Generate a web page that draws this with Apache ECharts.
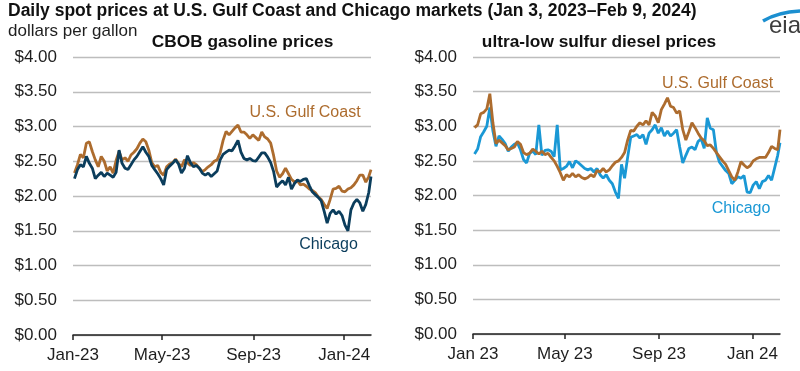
<!DOCTYPE html>
<html>
<head>
<meta charset="utf-8">
<script src="https://cdn.jsdelivr.net/npm/echarts@6/dist/echarts.min.js"></script>
<style>
html,body{margin:0;padding:0;background:#fff;}
#c{width:800px;height:371px;}
</style>
</head>
<body>
<div id="c"></div>
<script>
// ---- data ----
const dates = [
'2023-01-03','2023-01-07','2023-01-11','2023-01-15','2023-01-19','2023-01-23','2023-01-27','2023-01-31',
'2023-02-04','2023-02-08','2023-02-12','2023-02-16','2023-02-20','2023-02-24','2023-02-28',
'2023-03-04','2023-03-08','2023-03-12','2023-03-16','2023-03-20','2023-03-24','2023-03-28',
'2023-04-01','2023-04-05','2023-04-09','2023-04-13','2023-04-17','2023-04-21','2023-04-25','2023-04-29',
'2023-05-03','2023-05-07','2023-05-11','2023-05-15','2023-05-19','2023-05-23','2023-05-27','2023-05-31',
'2023-06-04','2023-06-08','2023-06-12','2023-06-16','2023-06-20','2023-06-24','2023-06-28',
'2023-07-02','2023-07-06','2023-07-10','2023-07-14','2023-07-18','2023-07-22','2023-07-26','2023-07-30',
'2023-08-03','2023-08-07','2023-08-11','2023-08-15','2023-08-19','2023-08-23','2023-08-27','2023-08-31',
'2023-09-04','2023-09-08','2023-09-12','2023-09-16','2023-09-20','2023-09-24','2023-09-28',
'2023-10-02','2023-10-06','2023-10-10','2023-10-14','2023-10-18','2023-10-22','2023-10-26','2023-10-30',
'2023-11-03','2023-11-07','2023-11-11','2023-11-15','2023-11-19','2023-11-23','2023-11-27',
'2023-12-01','2023-12-05','2023-12-09','2023-12-13','2023-12-17','2023-12-21','2023-12-25','2023-12-29',
'2024-01-02','2024-01-06','2024-01-10','2024-01-14','2024-01-18','2024-01-22','2024-01-26','2024-01-30',
'2024-02-03','2024-02-06'
];
const gasGulf = [
2.33,2.45,2.60,2.55,2.76,2.78,2.64,2.52,
2.42,2.57,2.50,2.36,2.42,2.33,2.51,
2.64,2.52,2.55,2.50,2.59,2.63,2.68,
2.76,2.82,2.78,2.66,2.48,2.42,2.44,2.34,
2.30,2.42,2.46,2.48,2.53,2.47,2.42,2.52,
2.48,2.44,2.48,2.45,2.40,2.35,2.38,
2.42,2.45,2.50,2.52,2.62,2.80,2.93,2.88,
2.93,2.98,3.02,2.92,2.92,2.88,2.83,2.88,
2.84,2.80,2.92,2.85,2.82,2.76,2.58,
2.36,2.27,2.32,2.40,2.32,2.24,2.20,2.22,
2.16,2.17,2.14,2.10,2.08,2.05,1.99,
1.95,1.88,1.82,1.95,2.10,2.11,2.14,2.07,
2.06,2.10,2.12,2.16,2.22,2.30,2.30,2.20,
2.28,2.38
];
const gasChicago = [
2.25,2.38,2.45,2.42,2.57,2.47,2.40,2.25,
2.30,2.34,2.28,2.33,2.30,2.27,2.34,
2.66,2.47,2.40,2.38,2.45,2.52,2.57,
2.64,2.71,2.63,2.57,2.44,2.38,2.32,2.25,
2.16,2.38,2.43,2.47,2.52,2.46,2.33,2.40,
2.58,2.48,2.42,2.44,2.40,2.33,2.30,
2.33,2.28,2.32,2.36,2.52,2.60,2.63,2.66,
2.65,2.72,2.80,2.63,2.54,2.52,2.54,2.51,
2.50,2.56,2.62,2.62,2.56,2.48,2.35,
2.13,2.18,2.22,2.16,2.27,2.10,2.18,2.23,
2.21,2.24,2.25,2.15,2.06,2.02,1.98,
1.93,1.78,1.61,1.75,1.80,1.74,1.78,1.72,
1.58,1.50,1.80,1.90,1.95,1.90,1.78,1.88,
2.05,2.28
];
const dieselGulf = [
2.98,3.02,3.18,3.20,3.25,3.47,3.05,2.75,
2.80,2.76,2.72,2.66,2.68,2.70,2.78,
2.74,2.62,2.59,2.61,2.67,2.64,2.60,
2.64,2.59,2.61,2.55,2.50,2.42,2.33,2.22,
2.30,2.27,2.32,2.27,2.30,2.26,2.24,2.26,
2.30,2.27,2.36,2.34,2.39,2.34,2.37,
2.43,2.48,2.50,2.55,2.62,2.80,2.94,2.93,
3.00,3.05,3.02,3.08,3.02,3.20,3.15,3.05,
3.24,3.32,3.41,3.29,3.27,3.19,3.22,
2.95,2.80,2.92,3.05,2.98,2.90,2.83,2.79,
2.72,2.73,2.68,2.62,2.56,2.50,2.45,
2.36,2.27,2.22,2.34,2.49,2.44,2.40,2.43,
2.50,2.53,2.55,2.55,2.55,2.62,2.71,2.68,
2.66,2.95
];
const dieselChicago = [
2.60,2.67,2.85,2.92,3.00,3.27,2.93,2.71,
2.86,2.81,2.75,2.64,2.70,2.74,2.76,
2.66,2.52,2.47,2.61,2.64,2.59,3.02,
2.58,2.65,2.66,2.64,2.56,3.02,2.37,2.39,
2.42,2.49,2.40,2.50,2.47,2.43,2.39,2.37,
2.39,2.34,2.39,2.30,2.25,2.30,2.22,
2.17,2.05,1.96,2.45,2.25,2.55,2.84,2.86,
2.88,2.83,2.88,2.74,2.90,2.95,3.02,2.90,
2.98,2.86,2.93,2.86,2.90,2.95,2.70,
2.47,2.58,2.68,2.70,2.66,2.78,2.82,2.68,
3.12,2.97,2.95,2.62,2.48,2.42,2.36,
2.32,2.17,2.22,2.27,2.25,2.29,2.05,2.04,
2.15,2.20,2.10,2.20,2.22,2.29,2.22,2.40,
2.58,2.76
];
const xTickDates = ['2023-01-01','2023-05-01','2023-09-01','2024-01-01'];
const xTickLabelsLeft = ['Jan-23','May-23','Sep-23','Jan-24'];
const xTickLabelsRight = ['Jan 23','May 23','Sep 23','Jan 24'];
const axisStart = '2023-01-01';
const axisEnd = '2024-02-06';

// ---- helpers ----
function ts(s){ const p = s.split('-').map(Number); return Date.UTC(p[0], p[1]-1, p[2]); }
const tickTs = xTickDates.map(ts);
function pairs(vals){ return dates.map((d,i)=>[ts(d), vals[i]]); }
function labelFor(labels){
  return function(v){
    let best=0, bd=Infinity;
    tickTs.forEach((t,i)=>{ const d=Math.abs(t-v); if(d<bd){bd=d;best=i;} });
    return bd < 86400000*3 ? labels[best] : '';
  };
}

const FONT = '"Liberation Sans", Arial, Helvetica, sans-serif';
const BROWN = '#ad6c2e';
const NAVY = '#0b3d5c';
const BLUE = '#1a98d5';
const TXT = '#1e1e1e';

function xAxisFor(grid, labels){
  return {
    type:'value', gridIndex:grid, min:ts(axisStart), max:ts(axisEnd),
    axisLine:{show:true, onZero:false, lineStyle:{color:'#222', width:1.5}},
    axisTick:{show:true, customValues:tickTs, length:5, inside:false, lineStyle:{color:'#222', width:1.5}},
    axisLabel:{customValues:tickTs, formatter:labelFor(labels), fontSize:17, fontFamily:FONT, color:TXT, margin:12, hideOverlap:false},
    splitLine:{show:false}
  };
}
function yAxisFor(grid){
  return {
    type:'value', gridIndex:grid, min:0, max:4, interval:0.5,
    axisLine:{show:false}, axisTick:{show:false},
    axisLabel:{formatter:v=>'$'+v.toFixed(2), fontSize:17, fontFamily:FONT, color:TXT, margin:16},
    splitLine:{show:true, lineStyle:{color:'#bdbdbd', width:1.3}}
  };
}
function line(name, vals, color, xi){
  return {name, type:'line', xAxisIndex:xi, yAxisIndex:xi, data:pairs(vals), showSymbol:false, symbol:'none',
    lineStyle:{color, width:2.8}, itemStyle:{color}, silent:true, animation:false};
}

const chart = echarts.init(document.getElementById('c'), null, {renderer:'canvas'});
chart.setOption({
  animation:false,
  backgroundColor:'#fff',
  textStyle:{fontFamily:FONT},
  grid:[
    {left:73, top:57, width:298, height:278},
    {left:473, top:57, width:307, height:277}
  ],
  xAxis:[xAxisFor(0, xTickLabelsLeft), xAxisFor(1, xTickLabelsRight)],
  yAxis:[yAxisFor(0), yAxisFor(1)],
  series:[
    line('U.S. Gulf Coast', gasGulf, BROWN, 0),
    line('Chicago', gasChicago, NAVY, 0),
    line('Chicago', dieselChicago, BLUE, 1),
    line('U.S. Gulf Coast', dieselGulf, BROWN, 1)
  ],
  graphic:[
    {type:'text', x:8, y:11, style:{text:'Daily spot prices at U.S. Gulf Coast and Chicago markets (Jan 3, 2023\u2013Feb 9, 2024)', font:'bold 17.5px '+FONT, fill:'#111', textAlign:'left', textVerticalAlign:'middle'}},
    {type:'text', x:8, y:31, style:{text:'dollars per gallon', font:'17px '+FONT, fill:TXT, textAlign:'left', textVerticalAlign:'middle'}},
    {type:'text', x:242.5, y:42, style:{text:'CBOB gasoline prices', font:'bold 17.3px '+FONT, fill:'#111', textAlign:'center', textVerticalAlign:'middle'}},
    {type:'text', x:599, y:42, style:{text:'ultra-low sulfur diesel prices', font:'bold 17.3px '+FONT, fill:'#111', textAlign:'center', textVerticalAlign:'middle'}},
    {type:'text', x:305, y:113, style:{text:'U.S. Gulf Coast', font:'16px '+FONT, fill:BROWN, textAlign:'center', textVerticalAlign:'middle'}},
    {type:'text', x:328.5, y:245, style:{text:'Chicago', font:'16px '+FONT, fill:NAVY, textAlign:'center', textVerticalAlign:'middle'}},
    {type:'text', x:717.5, y:84, style:{text:'U.S. Gulf Coast', font:'16px '+FONT, fill:BROWN, textAlign:'center', textVerticalAlign:'middle'}},
    {type:'text', x:741, y:209, style:{text:'Chicago', font:'16px '+FONT, fill:BLUE, textAlign:'center', textVerticalAlign:'middle'}},
    {type:'bezierCurve', shape:{x1:763, y1:21, cpx1:778, cpy1:12, x2:800, y2:11}, style:{stroke:'#1b8fd0', lineWidth:3.5, fill:null}},
    {type:'text', x:769, y:38, style:{text:'eia', font:'24px '+FONT, fill:'#3d3d3d', textAlign:'left', textVerticalAlign:'bottom'}}
  ]
});
</script>
</body>
</html>
